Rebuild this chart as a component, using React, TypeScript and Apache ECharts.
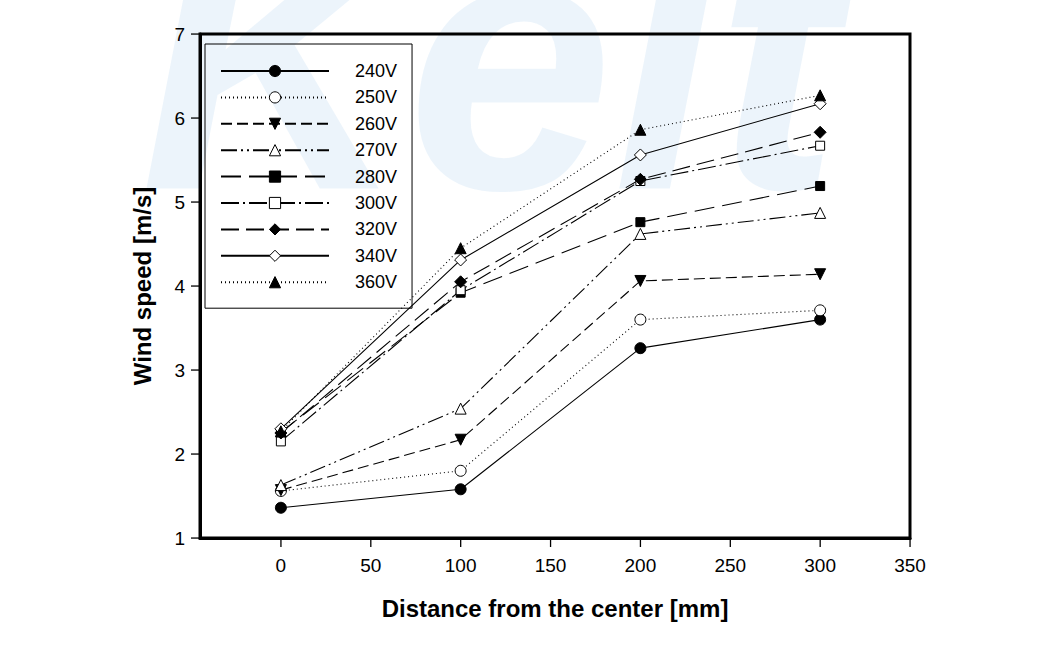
import React, { useEffect, useRef } from "react";
import * as echarts from "echarts";

const distances = [0, 100, 200, 300];
const seriesNames = ["240V", "250V", "260V", "270V", "280V", "300V", "320V", "340V", "360V"];
const v240 = [1.36, 1.58, 3.26, 3.6];
const v250 = [1.56, 1.8, 3.6, 3.71];
const v260 = [1.57, 2.17, 4.06, 4.14];
const v270 = [1.63, 2.54, 4.62, 4.87];
const v280 = [2.26, 3.92, 4.76, 5.19];
const v300 = [2.15, 3.95, 5.25, 5.67];
const v320 = [2.25, 4.05, 5.27, 5.83];
const v340 = [2.3, 4.31, 5.56, 6.17];
const v360 = [2.27, 4.45, 5.86, 6.27];
const seriesValues = [v240, v250, v260, v270, v280, v300, v320, v340, v360];
const xTicks = [0, 50, 100, 150, 200, 250, 300, 350];
const yTicks = [1, 2, 3, 4, 5, 6, 7];
const X_MIN = -45;
const X_MAX = 350;
const Y_MIN = 1;
const Y_MAX = 7;

const FONT = "'Liberation Sans', Arial, sans-serif";

const looks = [
  { symbol: "circle", size: 11, rotate: 0, fill: "#000", dash: "solid" as any },
  { symbol: "circle", size: 11, rotate: 0, fill: "#fff", dash: [1, 3] },
  { symbol: "triangle", size: 11, rotate: 180, fill: "#000", dash: [11, 5] },
  { symbol: "triangle", size: 11, rotate: 0, fill: "#fff", dash: [16, 4, 2, 4, 2, 4] },
  { symbol: "rect", size: 9, rotate: 0, fill: "#000", dash: [20, 8] },
  { symbol: "rect", size: 9, rotate: 0, fill: "#fff", dash: [18, 4, 2, 4] },
  { symbol: "diamond", size: 12, rotate: 0, fill: "#000", dash: [18, 7] },
  { symbol: "diamond", size: 12, rotate: 0, fill: "#fff", dash: "solid" as any },
  { symbol: "triangle", size: 11, rotate: 0, fill: "#000", dash: [1, 3] },
];

export default function App() {
  const ref = useRef<HTMLDivElement>(null);
  useEffect(() => {
    const chart = echarts.init(ref.current!, null, { renderer: "svg" });
    const series = seriesNames.map((name, i) => ({
      name,
      type: "line",
      data: distances.map((d, j) => [d, seriesValues[i][j]]),
      symbol: looks[i].symbol,
      symbolSize: looks[i].size,
      symbolRotate: looks[i].rotate,
      showAllSymbol: true,
      color: "#000",
      lineStyle: { color: "#000", width: 1.1, type: looks[i].dash },
      itemStyle: { color: looks[i].fill, borderColor: "#000", borderWidth: 1, opacity: 1 },
      emphasis: { disabled: true },
      z: 3,
    }));
    const watermark = {
      id: "watermark",
      type: "text",
      z: -10,
      silent: true,
      left: 140,
      top: -125,
      style: {
        text: "Keit",
        fontSize: 370,
        fontWeight: "bold",
        fontStyle: "italic",
        fontFamily: FONT,
        fill: "rgba(140,190,230,0.17)",
      },
    };
    chart.setOption({
      animation: false,
      backgroundColor: "#fff",
      textStyle: { fontFamily: FONT },
      graphic: [watermark],
      grid: {
        left: 200,
        top: 34,
        width: 710,
        height: 504,
        show: true,
        borderColor: "#000",
        borderWidth: 3,
        backgroundColor: "transparent",
      },
      legend: {
        data: seriesNames,
        orient: "vertical",
        left: 205,
        top: 44,
        padding: [18, 15, 17, 15],
        itemWidth: 108,
        itemHeight: 14,
        itemGap: 8.4,
        borderColor: "#000",
        borderWidth: 1,
        backgroundColor: "transparent",
        selectedMode: false,
        itemStyle: { borderWidth: 1, borderColor: "#000" },
        textStyle: { fontSize: 18, color: "#000", fontFamily: FONT, padding: [0, 0, 0, 21] },
      },
      xAxis: {
        type: "value",
        position: "bottom",
        min: X_MIN,
        max: X_MAX,
        name: "Distance from the center [mm]",
        nameLocation: "middle",
        nameGap: 58,
        nameTextStyle: { fontSize: 24, fontWeight: "bold", color: "#000", fontFamily: FONT },
        axisLine: { show: true, onZero: false, lineStyle: { color: "#000", width: 3 } },
        axisTick: { show: false },
        axisLabel: { customValues: xTicks, fontSize: 19, color: "#000", margin: 18, fontFamily: FONT },
        splitLine: { show: false },
      },
      yAxis: {
        type: "value",
        position: "left",
        min: Y_MIN,
        max: Y_MAX,
        interval: 1,
        name: "Wind speed [m/s]",
        nameLocation: "middle",
        nameGap: 46,
        nameRotate: 90,
        nameTextStyle: { fontSize: 24, fontWeight: "bold", color: "#000", fontFamily: FONT },
        axisLine: { show: true, onZero: false, lineStyle: { color: "#000", width: 3 } },
        axisTick: { show: false },
        axisLabel: { fontSize: 19, color: "#000", margin: 15, fontFamily: FONT },
        splitLine: { show: false },
      },
      series,
    });
    // Tick marks placed through the chart's own scales
    const tickEls: any[] = [];
    yTicks.forEach((v, i) => {
      const p = chart.convertToPixel({ xAxisIndex: 0, yAxisIndex: 0 }, [X_MIN, v]) as number[];
      tickEls.push({
        id: "yt" + i,
        type: "rect",
        z: 50,
        silent: true,
        shape: { x: p[0] - 9, y: p[1] - 0.6, width: 9, height: 1.3 },
        style: { fill: "#000" },
      });
    });
    xTicks.forEach((v, i) => {
      const p = chart.convertToPixel({ xAxisIndex: 0, yAxisIndex: 0 }, [v, Y_MIN]) as number[];
      tickEls.push({
        id: "xt" + i,
        type: "rect",
        z: 50,
        silent: true,
        shape: { x: p[0] - 0.6, y: p[1], width: 1.3, height: 9 },
        style: { fill: "#000" },
      });
    });
    chart.setOption({ graphic: [watermark, ...tickEls] });
    return () => chart.dispose();
  }, []);
  return (
    <div
      ref={ref}
      style={{ position: "absolute", left: 0, top: 0, width: 1038, height: 659 }}
    />
  );
}
